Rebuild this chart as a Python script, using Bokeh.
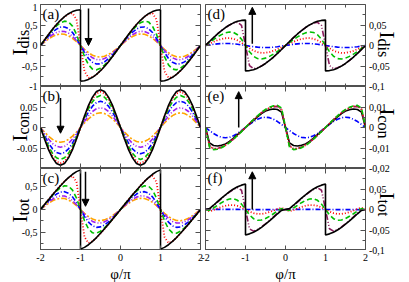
import math
from bokeh.plotting import figure
from bokeh.models import LinearAxis, FixedTicker, Label, Arrow, NormalHead, Range1d
from bokeh.layouts import row, column
from bokeh.core.properties import value
from bokeh.embed import file_html
from bokeh.resources import INLINE

# ---------------- data ----------------
phi = [-2.0, -1.9, -1.8, -1.7, -1.6, -1.5, -1.4, -1.3, -1.2, -1.1, -1.0,
       -1.0, -0.9, -0.8, -0.7, -0.6, -0.5, -0.4, -0.3, -0.2, -0.1, 0.0,
       0.1, 0.2, 0.3, 0.4, 0.5, 0.6, 0.7, 0.8, 0.9, 1.0,
       1.0, 1.1, 1.2, 1.3, 1.4, 1.5, 1.6, 1.7, 1.8, 1.9, 2.0]

# (a) I_dis, left
a_black = [0, .136, .269, .395, .511, .615, .704, .775, .827, .859, .87, -.87, -.859, -.827, -.775, -.704, -.615, -.511, -.395, -.269, -.136, 0, .136, .269, .395, .511, .615, .704, .775, .827, .859, .87, -.87, -.859, -.827, -.775, -.704, -.615, -.511, -.395, -.269, -.136, 0]
a_red = [0, .136, .269, .395, .511, .615, .703, .768, .788, .631, 0, 0, -.631, -.788, -.768, -.703, -.615, -.511, -.395, -.269, -.136, 0, .136, .269, .395, .511, .615, .703, .768, .788, .631, 0, 0, -.631, -.788, -.768, -.703, -.615, -.511, -.395, -.269, -.136, 0]
a_green = [0, .132, .259, .377, .478, .555, .594, .575, .472, .272, 0, 0, -.272, -.472, -.575, -.594, -.555, -.478, -.377, -.259, -.132, 0, .132, .259, .377, .478, .555, .594, .575, .472, .272, 0, 0, -.272, -.472, -.575, -.594, -.555, -.478, -.377, -.259, -.132, 0]
a_blue = [0, .117, .227, .324, .400, .446, .453, .411, .316, .172, 0, 0, -.172, -.316, -.411, -.453, -.446, -.400, -.324, -.227, -.117, 0, .117, .227, .324, .400, .446, .453, .411, .316, .172, 0, 0, -.172, -.316, -.411, -.453, -.446, -.400, -.324, -.227, -.117, 0]
a_purple = [0, .097, .187, .263, .318, .346, .341, .300, .224, .120, 0, 0, -.120, -.224, -.300, -.341, -.346, -.318, -.263, -.187, -.097, 0, .097, .187, .263, .318, .346, .341, .300, .224, .120, 0, 0, -.120, -.224, -.300, -.341, -.346, -.318, -.263, -.187, -.097, 0]
a_orange = [0, .082, .157, .219, .262, .282, .274, .238, .176, .094, 0, 0, -.094, -.176, -.238, -.274, -.282, -.262, -.219, -.157, -.082, 0, .082, .157, .219, .262, .282, .274, .238, .176, .094, 0, 0, -.094, -.176, -.238, -.274, -.282, -.262, -.219, -.157, -.082, 0]

# (b) I_con, left
b_black = [0, -.028, -.054, -.074, -.088, -.092, -.088, -.074, -.054, -.028, 0, 0, .028, .054, .074, .088, .092, .088, .074, .054, .028, 0, -.028, -.054, -.074, -.088, -.092, -.088, -.074, -.054, -.028, 0, 0, .028, .054, .074, .088, .092, .088, .074, .054, .028, 0]
b_red = [0, -.027, -.051, -.070, -.083, -.087, -.083, -.070, -.051, -.027, 0, 0, .027, .051, .070, .083, .087, .083, .070, .051, .027, 0, -.027, -.051, -.070, -.083, -.087, -.083, -.070, -.051, -.027, 0, 0, .027, .051, .070, .083, .087, .083, .070, .051, .027, 0]
b_green = [0, -.024, -.046, -.063, -.074, -.078, -.074, -.063, -.046, -.024, 0, 0, .024, .046, .063, .074, .078, .074, .063, .046, .024, 0, -.024, -.046, -.063, -.074, -.078, -.074, -.063, -.046, -.024, 0, 0, .024, .046, .063, .074, .078, .074, .063, .046, .024, 0]
b_blue = [0, -.020, -.038, -.052, -.061, -.064, -.061, -.052, -.038, -.020, 0, 0, .020, .038, .052, .061, .064, .061, .052, .038, .020, 0, -.020, -.038, -.052, -.061, -.064, -.061, -.052, -.038, -.020, 0, 0, .020, .038, .052, .061, .064, .061, .052, .038, .020, 0]
b_purple = [0, -.015, -.028, -.039, -.046, -.048, -.046, -.039, -.028, -.015, 0, 0, .015, .028, .039, .046, .048, .046, .039, .028, .015, 0, -.015, -.028, -.039, -.046, -.048, -.046, -.039, -.028, -.015, 0, 0, .015, .028, .039, .046, .048, .046, .039, .028, .015, 0]
b_orange = [0, -.011, -.021, -.029, -.034, -.036, -.034, -.029, -.021, -.011, 0, 0, .011, .021, .029, .034, .036, .034, .029, .021, .011, 0, -.011, -.021, -.029, -.034, -.036, -.034, -.029, -.021, -.011, 0, 0, .011, .021, .029, .034, .036, .034, .029, .021, .011, 0]

# (c) I_tot, left
c_black = [0, .108, .215, .321, .423, .523, .616, .701, .773, .831, .87, -.87, -.831, -.773, -.701, -.616, -.523, -.423, -.321, -.215, -.108, 0, .108, .215, .321, .423, .523, .616, .701, .773, .831, .87, -.87, -.831, -.773, -.701, -.616, -.523, -.423, -.321, -.215, -.108, 0]
c_red = [0, .109, .218, .325, .428, .528, .620, .698, .737, .604, 0, 0, -.604, -.737, -.698, -.620, -.528, -.428, -.325, -.218, -.109, 0, .109, .218, .325, .428, .528, .620, .698, .737, .604, 0, 0, -.604, -.737, -.698, -.620, -.528, -.428, -.325, -.218, -.109, 0]
c_green = [0, .108, .213, .314, .404, .477, .520, .512, .426, .248, 0, 0, -.248, -.426, -.512, -.520, -.477, -.404, -.314, -.213, -.108, 0, .108, .213, .314, .404, .477, .520, .512, .426, .248, 0, 0, -.248, -.426, -.512, -.520, -.477, -.404, -.314, -.213, -.108, 0]
c_blue = [0, .097, .189, .272, .339, .382, .392, .359, .278, .152, 0, 0, -.152, -.278, -.359, -.392, -.382, -.339, -.272, -.189, -.097, 0, .097, .189, .272, .339, .382, .392, .359, .278, .152, 0, 0, -.152, -.278, -.359, -.392, -.382, -.339, -.272, -.189, -.097, 0]
c_purple = [0, .082, .159, .224, .272, .298, .295, .261, .196, .105, 0, 0, -.105, -.196, -.261, -.295, -.298, -.272, -.224, -.159, -.082, 0, .082, .159, .224, .272, .298, .295, .261, .196, .105, 0, 0, -.105, -.196, -.261, -.295, -.298, -.272, -.224, -.159, -.082, 0]
c_orange = [0, .071, .136, .190, .228, .246, .240, .209, .155, .083, 0, 0, -.083, -.155, -.209, -.240, -.246, -.228, -.190, -.136, -.071, 0, .071, .136, .190, .228, .246, .240, .209, .155, .083, 0, 0, -.083, -.155, -.209, -.240, -.246, -.228, -.190, -.136, -.071, 0]

# (d) I_dis, right
d_black = [0, .0097, .0192, .0281, .0364, .0438, .0502, .0552, .0590, .0612, .062, -.062, -.0612, -.0590, -.0552, -.0502, -.0438, -.0364, -.0281, -.0192, -.0097, 0, .0097, .0192, .0281, .0364, .0438, .0502, .0552, .0590, .0612, .062, -.062, -.0612, -.0590, -.0552, -.0502, -.0438, -.0364, -.0281, -.0192, -.0097, 0]
d_maroon = [0, .0097, .0192, .0281, .0364, .0436, .0498, .0545, .0566, .0490, 0, 0, -.0490, -.0566, -.0545, -.0498, -.0436, -.0364, -.0281, -.0192, -.0097, 0, .0097, .0192, .0281, .0364, .0436, .0498, .0545, .0566, .0490, 0, 0, -.0490, -.0566, -.0545, -.0498, -.0436, -.0364, -.0281, -.0192, -.0097, 0]
d_green = [0, .0073, .0144, .0209, .0265, .0308, .0330, .0319, .0262, .0151, 0, 0, -.0151, -.0262, -.0319, -.0330, -.0308, -.0265, -.0209, -.0144, -.0073, 0, .0073, .0144, .0209, .0265, .0308, .0330, .0319, .0262, .0151, 0, 0, -.0151, -.0262, -.0319, -.0330, -.0308, -.0265, -.0209, -.0144, -.0073, 0]
d_red = [0, .0046, .0090, .0129, .0159, .0177, .0180, .0163, .0126, .0068, 0, 0, -.0068, -.0126, -.0163, -.0180, -.0177, -.0159, -.0129, -.0090, -.0046, 0, .0046, .0090, .0129, .0159, .0177, .0180, .0163, .0126, .0068, 0, 0, -.0068, -.0126, -.0163, -.0180, -.0177, -.0159, -.0129, -.0090, -.0046, 0]
d_blue = [0, .0015, .0029, .0040, .0048, .0050, .0048, .0040, .0029, .0015, 0, 0, -.0015, -.0029, -.0040, -.0048, -.0050, -.0048, -.0040, -.0029, -.0015, 0, .0015, .0029, .0040, .0048, .0050, .0048, .0040, .0029, .0015, 0, 0, -.0015, -.0029, -.0040, -.0048, -.0050, -.0048, -.0040, -.0029, -.0015, 0]

# (e) I_con, right
e_green = [0, -.0095, -.0108, -.0106, -.0099, -.0088, -.0074, -.0057, -.0039, -.0020, 0, 0, .0020, .0039, .0057, .0074, .0088, .0099, .0106, .0108, .0095, 0, -.0095, -.0108, -.0106, -.0099, -.0088, -.0074, -.0057, -.0039, -.0020, 0, 0, .0020, .0039, .0057, .0074, .0088, .0099, .0106, .0108, .0095, 0]
e_red = [0, -.0090, -.0104, -.0103, -.0096, -.0086, -.0072, -.0056, -.0038, -.0019, 0, 0, .0019, .0038, .0056, .0072, .0086, .0096, .0103, .0104, .0090, 0, -.0090, -.0104, -.0103, -.0096, -.0086, -.0072, -.0056, -.0038, -.0019, 0, 0, .0019, .0038, .0056, .0072, .0086, .0096, .0103, .0104, .0090, 0]
e_maroon = [0, -.0088, -.0103, -.0102, -.0096, -.0085, -.0072, -.0055, -.0038, -.0019, 0, 0, .0019, .0038, .0055, .0072, .0085, .0096, .0102, .0103, .0088, 0, -.0088, -.0103, -.0102, -.0096, -.0085, -.0072, -.0055, -.0038, -.0019, 0, 0, .0019, .0038, .0055, .0072, .0085, .0096, .0102, .0103, .0088, 0]
e_black = [0, -.0075, -.0088, -.0090, -.0087, -.0080, -.0068, -.0052, -.0035, -.0018, 0, 0, .0018, .0035, .0052, .0068, .0080, .0087, .0090, .0088, .0075, 0, -.0075, -.0088, -.0090, -.0087, -.0080, -.0068, -.0052, -.0035, -.0018, 0, 0, .0018, .0035, .0052, .0068, .0080, .0087, .0090, .0088, .0075, 0]
e_blue = [0, -.0015, -.0029, -.0040, -.0048, -.0050, -.0048, -.0040, -.0029, -.0015, 0, 0, .0015, .0029, .0040, .0048, .0050, .0048, .0040, .0029, .0015, 0, -.0015, -.0029, -.0040, -.0048, -.0050, -.0048, -.0040, -.0029, -.0015, 0, 0, .0015, .0029, .0040, .0048, .0050, .0048, .0040, .0029, .0015, 0]

# (f) I_tot, right
f_black = [0, .0022, .0104, .0191, .0277, .0358, .0434, .0500, .0555, .0594, .062, -.062, -.0594, -.0555, -.0500, -.0434, -.0358, -.0277, -.0191, -.0104, -.0022, 0, .0022, .0104, .0191, .0277, .0358, .0434, .0500, .0555, .0594, .062, -.062, -.0594, -.0555, -.0500, -.0434, -.0358, -.0277, -.0191, -.0104, -.0022, 0]
f_maroon = [0, .0009, .0089, .0179, .0268, .0351, .0426, .0490, .0528, .0471, 0, 0, -.0471, -.0528, -.0490, -.0426, -.0351, -.0268, -.0179, -.0089, -.0009, 0, .0009, .0089, .0179, .0268, .0351, .0426, .0490, .0528, .0471, 0, 0, -.0471, -.0528, -.0490, -.0426, -.0351, -.0268, -.0179, -.0089, -.0009, 0]
f_green = [0, -.0022, .0036, .0103, .0166, .0220, .0256, .0262, .0223, .0131, 0, 0, -.0131, -.0223, -.0262, -.0256, -.0220, -.0166, -.0103, -.0036, .0022, 0, -.0022, .0036, .0103, .0166, .0220, .0256, .0262, .0223, .0131, 0, 0, -.0131, -.0223, -.0262, -.0256, -.0220, -.0166, -.0103, -.0036, .0022, 0]
f_red = [0, -.0044, -.0014, .0026, .0063, .0091, .0108, .0107, .0088, .0049, 0, 0, -.0049, -.0088, -.0107, -.0108, -.0091, -.0063, -.0026, .0014, .0044, 0, -.0044, -.0014, .0026, .0063, .0091, .0108, .0107, .0088, .0049, 0, 0, -.0049, -.0088, -.0107, -.0108, -.0091, -.0063, -.0026, .0014, .0044, 0]
f_blue = [0, .0002, .0003, .0004, .0004, .0004, .0004, .0003, .0002, .0001, 0, 0, -.0001, -.0002, -.0003, -.0004, -.0004, -.0004, -.0004, -.0003, -.0002, 0, .0002, .0003, .0004, .0004, .0004, .0004, .0003, .0002, .0001, 0, 0, -.0001, -.0002, -.0003, -.0004, -.0004, -.0004, -.0004, -.0003, -.0002, 0]

# ticks and tick labels
x_ticks = [-2, -1, 0, 1, 2]
x_minor = [-1.5, -0.5, 0.5, 1.5]
x_labels = ["-2", "-1", "0", "1", "2"]
a_yticks = [-1, -0.5, 0, 0.5, 1]
a_yminor = [-0.75, -0.25, 0.25, 0.75]
a_ylabels = ["-1", "-0,5", "0", "0,5", "1"]
b_yticks = [-0.05, 0, 0.05]
b_yminor = [-0.075, -0.025, 0.025, 0.075]
b_ylabels = ["-0.05", "0", "0.05"]
c_yticks = [-0.5, 0, 0.5]
c_yminor = [-0.75, -0.25, 0.25, 0.75]
c_ylabels = ["-0,5", "0", "0,5"]
d_yticks = [-0.1, -0.05, 0, 0.05]
d_yminor = [-0.075, -0.025, 0.025, 0.075]
d_ylabels = ["-0,1", "-0,05", "0", "0,05"]
e_yticks = [-0.02, -0.01, 0, 0.01]
e_yminor = [-0.015, -0.005, 0.005, 0.015]
e_ylabels = ["-0,02", "-0,01", "0", "0,01"]
f_yticks = [-0.1, -0.05, 0, 0.05]
f_yminor = [-0.075, -0.025, 0.025, 0.075]
f_ylabels = ["-0,1", "-0,05", "0", "0,05"]

# arrows: x, y_start, y_end
arrow_a = (-0.8, 0.9, 0.0)
arrow_b = (-1.5, 0.072, -0.014)
arrow_c = (-0.875, 0.83, 0.07)
arrow_d = (-0.83, 0.004, 0.093)
arrow_e = (-1.17, 0.0, 0.0175)
arrow_f = (-0.83, 0.0, 0.092)

# ---------------- styles / layout ----------------
FONT = "Liberation Serif"
FRAME = "#505050"
STY = {
    "black": ("black", "solid", 1.6),
    "red": ("#ff0000", "1 2", 1.8),
    "green": ("#00c000", "5 3", 1.6),
    "blue": ("#0000ff", "5 2 1 2", 1.6),
    "purple": ("#a020f0", "5 2 1 2 1 2", 1.6),
    "orange": ("#ffa500", "6 2 2 2", 1.6),
    "maroon": ("#8b1c5c", "6 2 1 2 1 2", 1.6),
}

# the page is drawn from its top-left corner (the Bokeh page template has no body margin)
FW, FH = 160, 82
PPU = FW / 4.0
TOP = 4
BOT_H = 32
PANELS_H = TOP + 3 * FH
TOTAL_H = PANELS_H + BOT_H              # 282
ROW_TOP = [TOP, TOP + FH, TOP + 2 * FH]   # frame tops, px from canvas top
SL_W, SR_W = 39, 41
L_BL, L_BR = 1, 2
R_BL, R_BR = 3, 3
PL_W, PR_W = L_BL + FW + L_BR, R_BL + FW + R_BR
BOTTOM_W = SL_W + PL_W + PR_W           # 368 ; total width 409


def make_axis(ticks, minor):
    return LinearAxis(
        ticker=FixedTicker(ticks=ticks, minor_ticks=minor),
        major_label_overrides={t: "" for t in ticks},
        axis_line_color=None,
        major_tick_in=5, major_tick_out=0, minor_tick_in=3, minor_tick_out=0,
        major_tick_line_color=FRAME, minor_tick_line_color=FRAME,
        major_label_standoff=0, major_label_text_font_size="0px",
    )


def panel(col, r, yr, yt, ym, series, letter, arrow):
    bl, br = (L_BL, L_BR) if col == 0 else (R_BL, R_BR)
    bt = TOP if r == 0 else 0
    p = figure(width=bl + FW + br, height=bt + FH, x_range=(-2, 2), y_range=yr,
               output_backend="svg", toolbar_location=None,
               x_axis_location=None, y_axis_location=None,
               min_border_left=bl, min_border_right=br,
               min_border_top=bt, min_border_bottom=0)
    p.grid.visible = False
    p.outline_line_color = FRAME
    p.outline_line_width = 1
    p.background_fill_color = "white"
    p.border_fill_color = "white"
    p.add_layout(make_axis(yt, ym), "left")
    p.add_layout(make_axis(yt, ym), "right")
    p.add_layout(make_axis(x_ticks, x_minor), "above")
    p.add_layout(make_axis(x_ticks, x_minor), "below")
    for name, ys in series:
        c, d, w = STY[name]
        p.line(phi, ys, line_color=c, line_dash=d, line_width=w)
    ax, ay0, ay1 = arrow
    p.add_layout(Arrow(x_start=ax, y_start=ay0, x_end=ax, y_end=ay1,
                       line_color="black", line_width=1.5,
                       end=NormalHead(size=7, fill_color="black", line_color="black")))
    p.add_layout(Label(x=2, y=FH - 1, x_units="screen", y_units="screen", text=letter,
                       text_font=FONT, text_font_size="15px", text_baseline="top",
                       text_align="left", text_color="black"))
    return p


def blank(width, height):
    s = figure(width=width, height=height, x_range=(0, width), y_range=(0, height),
               output_backend="svg", toolbar_location=None,
               x_axis_location=None, y_axis_location=None, min_border=0)
    s.grid.visible = False
    s.outline_line_color = None
    s.background_fill_color = "white"
    s.border_fill_color = "white"
    return s


def band(yr, top, total):
    lo, hi = yr
    per = (hi - lo) / FH
    return Range1d(start=lo - (total - top - FH) * per, end=hi + top * per)


def txt(s, **kw):
    font_size = kw.pop("size")
    s.text(text_font=value(FONT), text_font_size=value(font_size), text_color="black", **kw)


def strip(width, height, side, specs):
    s = blank(width, height)
    s.extra_y_ranges = {sp[0]: band(sp[1], ROW_TOP[i], height) for i, sp in enumerate(specs)}
    for i, (k, yr, yt, yl, sub, ypos) in enumerate(specs):
        offs = [3 if t == yr[1] else 0 for t in yt]
        y0 = height - ypos
        if side == "left":
            txt(s, x=[37] * len(yt), y=yt, text=yl, y_range_name=k, y_offset=offs,
                text_align=value("right"), text_baseline=value("middle"), size="10px")
            txt(s, x=[19.5], y=[y0], text=["I"], angle=math.pi / 2, text_align=value("left"),
                text_baseline=value("alphabetic"), size="21px")
            txt(s, x=[23], y=[y0 + 7], text=[sub], angle=math.pi / 2,
                text_align=value("left"), text_baseline=value("alphabetic"), size="16px")
        else:
            txt(s, x=[0.5] * len(yt), y=yt, text=yl, y_range_name=k, y_offset=offs,
                text_align=value("left"), text_baseline=value("middle"), size="10px")
            txt(s, x=[18], y=[y0], text=["I"], angle=-math.pi / 2, text_align=value("left"),
                text_baseline=value("alphabetic"), size="21px")
            txt(s, x=[14.5], y=[y0 - 7], text=[sub], angle=-math.pi / 2,
                text_align=value("left"), text_baseline=value("alphabetic"), size="16px")
    return s


def bottom_strip():
    s = blank(BOTTOM_W, BOT_H)
    lf = SL_W + L_BL                       # left frame start, px
    rf = SL_W + PL_W + R_BL                # right frame start, px
    s.extra_x_ranges = {
        "L": Range1d(-2 - lf / PPU, 2 + (BOTTOM_W - lf - FW) / PPU),
        "R": Range1d(-2 - rf / PPU, 2 + (BOTTOM_W - rf - FW) / PPU),
    }
    for name in ("L", "R"):
        txt(s, x=x_ticks, y=[BOT_H - 7] * len(x_ticks), text=x_labels, x_range_name=name,
            text_align=value("center"), text_baseline=value("middle"), size="10px")
        txt(s, x=[0], y=[9], text=["φ/π"], x_range_name=name,
            text_align=value("center"), text_baseline=value("alphabetic"), size="15px")
    return s


pa = panel(0, 0, (-1, 1), a_yticks, a_yminor,
           [("orange", a_orange), ("purple", a_purple), ("blue", a_blue), ("green", a_green),
            ("red", a_red), ("black", a_black)], "(a)", arrow_a)
pb = panel(0, 1, (-0.1, 0.1), b_yticks, b_yminor,
           [("orange", b_orange), ("purple", b_purple), ("blue", b_blue), ("green", b_green),
            ("red", b_red), ("black", b_black)], "(b)", arrow_b)
pc = panel(0, 2, (-0.9, 0.9), c_yticks, c_yminor,
           [("orange", c_orange), ("purple", c_purple), ("blue", c_blue), ("green", c_green),
            ("red", c_red), ("black", c_black)], "(c)", arrow_c)
pd = panel(1, 0, (-0.1, 0.1), d_yticks, d_yminor,
           [("blue", d_blue), ("red", d_red), ("green", d_green), ("maroon", d_maroon),
            ("black", d_black)], "(d)", arrow_d)
pe = panel(1, 1, (-0.02, 0.02), e_yticks, e_yminor,
           [("blue", e_blue), ("black", e_black), ("maroon", e_maroon), ("red", e_red),
            ("green", e_green)], "(e)", arrow_e)
pf = panel(1, 2, (-0.1, 0.1), f_yticks, f_yminor,
           [("blue", f_blue), ("red", f_red), ("green", f_green), ("maroon", f_maroon),
            ("black", f_black)], "(f)", arrow_f)

# label strips: (range name, y range, ticks, tick labels, subscript, page-y of label start)
left_strip = strip(SL_W, PANELS_H, "left", [
    ("a", (-1, 1), a_yticks, a_ylabels, "dis", 55),
    ("b", (-0.1, 0.1), b_yticks, b_ylabels, "con", 141),
    ("c", (-0.9, 0.9), c_yticks, c_ylabels, "tot", 222),
])
right_strip = strip(SR_W, TOTAL_H, "right", [
    ("d", (-0.1, 0.1), d_yticks, d_ylabels, "dis", 31),
    ("e", (-0.02, 0.02), e_yticks, e_ylabels, "con", 108),
    ("f", (-0.1, 0.1), f_yticks, f_ylabels, "tot", 192),
])

panels = column(row(pa, pd), row(pb, pe), row(pc, pf))
left_part = column(row(left_strip, panels), bottom_strip())
layout = row(left_part, right_strip)

open("out.html", "w").write(file_html(layout, INLINE))
